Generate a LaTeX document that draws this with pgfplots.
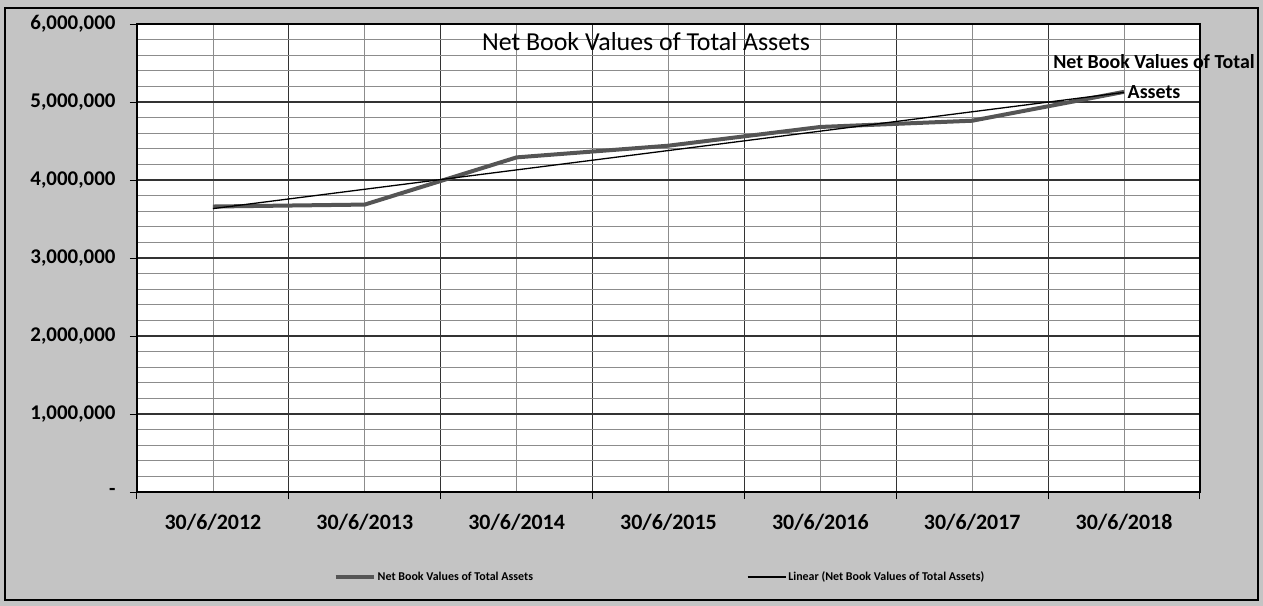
\documentclass[border=0pt]{standalone}
\usepackage{pgfplots}
\pgfplotsset{compat=1.18}
\usepackage{fontspec}
\setmainfont{Carlito}
\definecolor{bggray}{HTML}{C4C4C4}
\definecolor{dataline}{HTML}{555555}
\definecolor{majgrid}{HTML}{333333}
\definecolor{mingrid}{HTML}{8C8C8C}
\begin{document}
\begin{tikzpicture}
\path[use as bounding box] (-137bp,-114bp) rectangle (1126bp,492bp);
\fill[bggray] (-137bp,-114bp) rectangle (1126bp,492bp);
\draw[black, line width=1.5bp] (-132bp,-108bp) rectangle (1121bp,484bp);
\begin{axis}[
  at={(0,0)}, anchor=south west,
  scale only axis, width=1063bp, height=468bp,
  xmin=-0.5, xmax=6.5, ymin=0, ymax=6000000,
  clip=false,
  scaled y ticks=false,
  axis background/.style={fill=white},
  axis line style={black, line width=1.2bp},
  tick align=outside,
  xtick pos=bottom, ytick pos=left,
  tick style={black, line width=1bp},
  major tick length=7bp,
  minor tick length=0bp,
  xtick={-0.5,0.5,1.5,2.5,3.5,4.5,5.5,6.5},
  xticklabels={},
  minor xtick={0,1,2,3,4,5,6},
  ytick={0,1000000,2000000,3000000,4000000,5000000,6000000},
  yticklabels={{-\hspace{8bp}},{1,000,000},{2,000,000},{3,000,000},{4,000,000},{5,000,000},{6,000,000}},
  minor y tick num=4,
  xmajorgrids, xminorgrids, ymajorgrids, yminorgrids,
  major grid style={majgrid, line width=1.1bp},
  minor grid style={mingrid, line width=0.8bp},
  yticklabel style={font=\bfseries\fontsize{21}{25}\selectfont, anchor=east, xshift=-11bp},
  extra x ticks={0,1,2,3,4,5,6},
  extra x tick labels={30/6/2012,30/6/2013,30/6/2014,30/6/2015,30/6/2016,30/6/2017,30/6/2018},
  extra x tick style={grid=none, major tick length=0bp,
    xticklabel style={font=\bfseries\fontsize{22}{26}\selectfont, anchor=center, yshift=-30bp}},
  legend columns=2,
  legend style={at={(0.492,-0.1816)}, anchor=center, draw=none, fill=none,
    font=\bfseries\fontsize{12}{14}\selectfont,
    /tikz/every even column/.append style={column sep=212bp}},
  legend image code/.code={\draw[#1] (0bp,0bp) -- (38bp,0bp);},
]
\addplot[color=dataline, line width=4bp, line join=round] coordinates {
  (0,3660000) (1,3685000) (2,4290000) (3,4440000) (4,4680000) (5,4760000) (6,5130000)};
\addlegendentry{Net Book Values of Total Assets}
\addplot[black, line width=1.3bp] coordinates {(0,3633000) (6,5123000)};
\addlegendentry{Linear (Net Book Values of Total Assets)}
\node[font=\fontsize{26}{30}\selectfont, anchor=center] at (axis cs:2.852,5770000) {Net Book Values of Total Assets};
\node[align=center, font=\bfseries\fontsize{20}{30}\selectfont, anchor=center, xshift=30bp, yshift=15bp] at (axis cs:6,5130000) {Net Book Values of Total\\Assets};
\end{axis}
\end{tikzpicture}
\end{document}
